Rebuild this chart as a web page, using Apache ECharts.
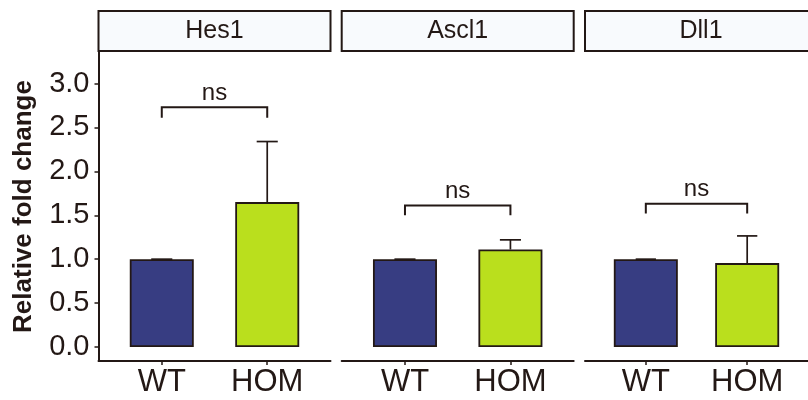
<!DOCTYPE html>
<html>
<head>
<meta charset="utf-8">
<script src="https://cdn.jsdelivr.net/npm/echarts@6/dist/echarts.min.js"></script>
<style>
  html, body { margin: 0; padding: 0; background: #ffffff; }
  #chart { width: 808px; height: 400px; }
</style>
</head>
<body>
<div id="chart"></div>
<script>
// Relative fold change of Notch targets, WT vs HOM
const genes = ['Hes1', 'Ascl1', 'Dll1'];
const groups = ['WT', 'HOM'];
const meanWT = [1.0, 1.0, 1.0];
const meanHOM = [1.65, 1.11, 0.955];
const seWT = [0, 0, 0];
const seHOM = [0.69, 0.11, 0.31];
const bracketY = [2.73, 1.61, 1.63];
const bracketTip = [2.61, 1.50, 1.52];
const sigLabels = ['ns', 'ns', 'ns'];
const yTicks = [0, 0.5, 1.0, 1.5, 2.0, 2.5, 3.0];

const INK = '#231815';
const FONT = '"Liberation Sans", Arial, Helvetica, sans-serif';
const fillWT = '#373d82';
const fillHOM = '#badf1d';

// facet geometry
const panelLeft = [98.5, 341.7, 585];
const panelWidth = 232;
const panelTop = 52;
const panelHeight = 309;
const stripTop = 11;
const stripHeight = 40;

const grids = [], xAxes = [], yAxes = [], series = [], graphics = [];

genes.forEach((gene, i) => {
  grids.push({ left: panelLeft[i], top: panelTop, width: panelWidth, height: panelHeight, containLabel: false });

  xAxes.push({
    type: 'value', gridIndex: i, min: 0.4, max: 2.6,
    splitLine: { show: false },
    axisLine: { show: true, onZero: false, lineStyle: { color: INK, width: 2 } },
    axisTick: { show: true, length: 4, customValues: [1, 2], lineStyle: { color: INK, width: 1.5 } },
    axisLabel: {
      customValues: [1, 2], margin: 6,
      formatter: v => groups[Math.round(v) - 1] || '',
      color: INK, fontSize: 31, fontFamily: FONT
    }
  });

  yAxes.push({
    type: 'value', gridIndex: i, min: -0.16, max: 3.36,
    show: i === 0,
    name: i === 0 ? 'Relative fold change' : '',
    nameLocation: 'middle', nameGap: 62,
    nameTextStyle: { color: INK, fontSize: 26, fontWeight: 'bold', fontFamily: FONT },
    splitLine: { show: false },
    axisLine: { show: true, onZero: false, lineStyle: { color: INK, width: 2 } },
    axisTick: { show: true, length: 4, customValues: yTicks, lineStyle: { color: INK, width: 1.5 } },
    axisLabel: {
      customValues: yTicks, margin: 9,
      formatter: v => v.toFixed(1),
      color: INK, fontSize: 29, fontFamily: FONT
    }
  });

  // bars
  series.push({
    type: 'bar', xAxisIndex: i, yAxisIndex: i,
    barWidth: 64,
    data: [
      { value: [1, meanWT[i]], itemStyle: { color: fillWT } },
      { value: [2, meanHOM[i]], itemStyle: { color: fillHOM } }
    ],
    itemStyle: { borderColor: INK, borderWidth: 1.8 },
    z: 2
  });

  // upper error bars (mean to mean + se)
  series.push({
    type: 'custom', xAxisIndex: i, yAxisIndex: i, z: 3,
    data: [[1, meanWT[i], meanWT[i] + seWT[i]], [2, meanHOM[i], meanHOM[i] + seHOM[i]]],
    renderItem: (params, api) => {
      const x = api.value(0);
      const p0 = api.coord([x, api.value(1)]);
      const p1 = api.coord([x, api.value(2)]);
      const half = api.size([0.1, 0])[0];
      const st = { stroke: INK, lineWidth: 1.7 };
      return {
        type: 'group', children: [
          { type: 'line', shape: { x1: p0[0], y1: p0[1], x2: p1[0], y2: p1[1] }, style: st },
          { type: 'line', shape: { x1: p1[0] - half, y1: p1[1], x2: p1[0] + half, y2: p1[1] }, style: st }
        ]
      };
    }
  });

  // significance bracket
  series.push({
    type: 'custom', xAxisIndex: i, yAxisIndex: i, z: 4,
    data: [[1, 2, bracketY[i], bracketTip[i]]],
    renderItem: (params, api) => {
      const a = api.coord([api.value(0), api.value(2)]);
      const b = api.coord([api.value(1), api.value(2)]);
      const tip = api.coord([api.value(0), api.value(3)])[1];
      return {
        type: 'group', children: [
          {
            type: 'polyline',
            shape: { points: [[a[0], tip], [a[0], a[1]], [b[0], b[1]], [b[0], tip]] },
            style: { stroke: INK, lineWidth: 2, fill: null }
          },
          {
            type: 'text',
            style: {
              text: sigLabels[i], x: (a[0] + b[0]) / 2, y: a[1] - 2,
              textAlign: 'center', textVerticalAlign: 'bottom',
              fontSize: 24, fontFamily: FONT, fill: INK
            }
          }
        ]
      };
    }
  });

  // facet strip
  graphics.push({
    type: 'rect', silent: true,
    shape: { x: panelLeft[i], y: stripTop, width: panelWidth, height: stripHeight },
    style: { fill: '#f8fafd', stroke: INK, lineWidth: 2 }
  });
  graphics.push({
    type: 'text', silent: true,
    x: panelLeft[i] + panelWidth / 2, y: stripTop + stripHeight / 2,
    style: { text: gene, textAlign: 'center', textVerticalAlign: 'middle', fontSize: 25, fontFamily: FONT, fill: INK }
  });
});

const chart = echarts.init(document.getElementById('chart'), null, { renderer: 'canvas' });
chart.setOption({
  backgroundColor: '#ffffff',
  animation: false,
  grid: grids,
  xAxis: xAxes,
  yAxis: yAxes,
  series: series,
  graphic: { elements: graphics }
});
</script>
</body>
</html>
